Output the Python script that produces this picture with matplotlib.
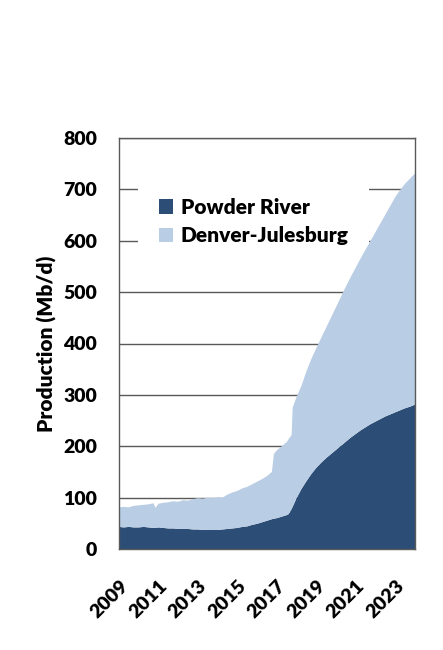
import matplotlib
matplotlib.use("Agg")
import matplotlib.pyplot as plt
from matplotlib.patches import Patch
import numpy as np

# ---- data ----
dates = [2009.00, 2009.25, 2009.50, 2009.75, 2010.00, 2010.25, 2010.50, 2010.75, 2010.85,
         2011.00, 2011.25, 2011.50, 2011.75, 2012.00, 2012.25, 2012.50, 2012.75,
         2013.00, 2013.25, 2013.50, 2013.75, 2014.00, 2014.25, 2014.50, 2014.75,
         2015.00, 2015.25, 2015.50, 2015.75, 2016.00, 2016.25, 2016.50, 2016.75, 2016.85,
         2017.00, 2017.25, 2017.50, 2017.60, 2017.75, 2017.80,
         2018.00, 2018.25, 2018.50, 2018.75, 2019.00, 2019.25, 2019.50, 2019.75,
         2020.00, 2020.25, 2020.50, 2020.75, 2021.00, 2021.25, 2021.50, 2021.75,
         2022.00, 2022.25, 2022.50, 2022.75, 2023.00, 2023.25, 2023.50, 2023.75, 2024.00]

powder_river = [43, 42, 43, 42, 42, 43, 42, 41, 41,
                42, 41, 40, 40, 39, 39, 39, 38,
                38, 37, 37, 37, 37, 38, 39, 40,
                41, 43, 44, 47, 49, 52, 55, 58, 59,
                60, 63, 66, 68, 78, 82,
                99, 117, 132, 146, 158, 168, 177, 185,
                193, 201, 209, 217, 224, 231, 237, 243,
                248, 253, 258, 262, 266, 270, 274, 277, 281]

total_production = [81, 82, 81, 84, 85, 86, 87, 89, 80,
                    88, 90, 91, 93, 92, 95, 94, 97,
                    99, 98, 100, 99, 101, 100, 106, 110,
                    113, 118, 121, 126, 131, 136, 142, 150, 185,
                    192, 200, 208, 214, 222, 275,
                    296, 318, 346, 370, 391, 411, 431, 451,
                    471, 491, 511, 530, 548, 566, 583, 600,
                    617, 634, 651, 668, 685, 699, 711, 721, 731]

denver_julesburg = list(np.array(total_production) - np.array(powder_river))

series_names = ["Powder River", "Denver-Julesburg"]
series_colors = ["#2C4D75", "#B9CDE5"]
x_ticks = [2009, 2011, 2013, 2015, 2017, 2019, 2021, 2023]
y_ticks = [0, 100, 200, 300, 400, 500, 600, 700, 800]

plt.rcParams['font.family'] = ['Lato', 'DejaVu Sans']
W = 'heavy'

fig = plt.figure(figsize=(4.43, 6.5), dpi=100)
ax = fig.add_axes([119/443, 101/650, 296/443, 411/650])

grid_c = '#595959'
for yv in y_ticks[1:]:
    ax.axhline(yv, color=grid_c, lw=1.0, zorder=0)

ax.stackplot(dates, powder_river, denver_julesburg, colors=series_colors,
             linewidth=0, zorder=2)

ax.set_xlim(2009, 2024)
ax.set_ylim(0, 800)
ax.set_xticks(x_ticks)
ax.set_xticklabels([str(t) for t in x_ticks], rotation=45, ha='right',
                   rotation_mode='anchor', fontsize=14, fontweight=W)
ax.set_yticks(y_ticks)
ax.set_yticklabels([str(t) for t in y_ticks], fontsize=14, fontweight=W)
ax.tick_params(axis='both', length=0)
ax.tick_params(axis='y', pad=16)
ax.tick_params(axis='x', pad=20)

for s in ax.spines.values():
    s.set_color(grid_c)
    s.set_linewidth(1.0)
    s.set_zorder(3)

ax.set_ylabel("Production (Mb/d)", fontsize=15, fontweight=W)
ax.yaxis.set_label_coords(-0.21, 0.5)

handles = [Patch(facecolor=c, edgecolor='none') for c in series_colors]
leg = ax.legend(handles, series_names, loc='center left', bbox_to_anchor=(0.064, 0.797),
                frameon=True, fancybox=False, framealpha=1, edgecolor='none',
                facecolor='white', prop={'size': 15, 'weight': W},
                handlelength=0.7, handleheight=0.7, handletextpad=0.35,
                labelspacing=0.45, borderpad=1.0, borderaxespad=0)
leg.set_zorder(1)

fig.savefig("out.png", dpi=100)
